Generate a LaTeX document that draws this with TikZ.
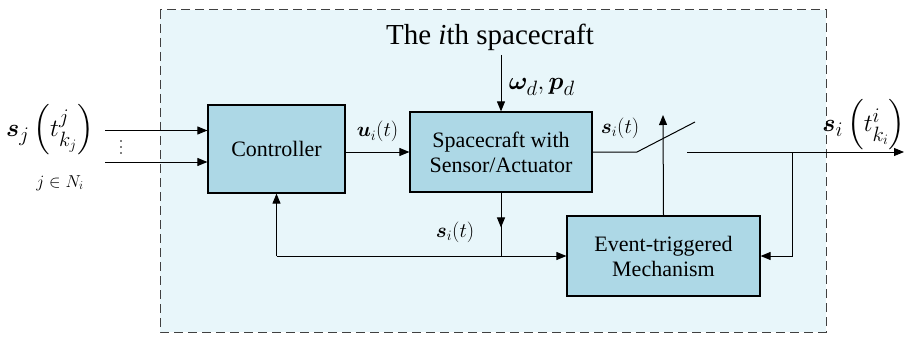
\documentclass[tikz,border=0pt]{standalone}
\usepackage{fontspec}
\setmainfont{Liberation Serif}
\usepackage{amsmath}
\usepackage{amssymb}
\usepackage{bm}
\usetikzlibrary{arrows.meta, positioning, calc}
\definecolor{bgcyan}{RGB}{232,246,250}
\definecolor{blockblue}{RGB}{173,216,230}

\begin{document}
\begin{tikzpicture}[x=1pt, y=-1pt, line width=1pt,
    >={Triangle[length=10pt, width=8pt]},
    block/.style={draw, line width=1.2pt, fill=blockblue, inner sep=0pt, align=center,
                  font=\fontsize{22}{25}\selectfont},
    lbl/.style={font=\fontsize{22}{25}\selectfont},
    biglbl/.style={font=\fontsize{28}{31}\selectfont}]
    \useasboundingbox (0,0) rectangle (914,337);

    % The i-th spacecraft frame
    \draw[dash pattern=on 9pt off 5pt, fill=bgcyan, line width=1pt, draw=black!75]
        (160,10) rectangle (826,332);
    \node[font=\fontsize{29}{32}\selectfont] (title) at (490,37) {The \textit{i}th spacecraft};

    % Blocks
    \node[block, minimum width=137pt, minimum height=88pt] (ctrl) at (276.5,149) {Controller};
    \node[block, minimum width=182pt, minimum height=80pt] (sc) at (501,152) {Spacecraft with\\Sensor/Actuator};
    \node[block, minimum width=193pt, minimum height=80pt] (etm) at (663.5,256) {Event-triggered\\Mechanism};

    % Neighbour inputs
    \node[biglbl] (sj) at (50,130) {$\bm{s}_j\left(t_{k_j}^{j}\right)$};
    \node[font=\fontsize{18}{20}\selectfont] (nj) at (60,183) {$j\in N_i$};
    \coordinate (in1) at (105,130.5);
    \coordinate (in2) at (105,162);
    \draw[->] (in1) -- (in1 -| ctrl.west);
    \draw[->] (in2) -- (in2 -| ctrl.west);
    \foreach \y in {141,147,153}
        \fill (121,\y) circle (0.8pt);

    % Controller to spacecraft
    \draw[->] (ctrl.east |- sc.west) -- (sc.west)
        node[lbl, midway, above=6pt] (ui) {$\bm{u}_i(t)$};

    % Disturbances
    \coordinate (dist) at (501,55);
    \draw[->] (dist) -- (sc.north);
    \node[biglbl, anchor=west] (wd) at (505,87) {$\bm{\omega}_d,\bm{p}_d$};

    % Switch
    \coordinate (sw1) at (637,152);
    \coordinate (sw2) at (695,122);
    \coordinate (sw3) at (687,152);
    \coordinate (out) at (904,152);
    \draw (sc.east |- sw1) -- (sw1) -- (sw2);
    \node[lbl] (si1) at (620,128) {$\bm{s}_i(t)$};
    \draw[->] (etm.north) -- (663,115);
    \draw[->] (sw3) -- (out);
    \node[biglbl] (sout) at (864,125) {$\bm{s}_i\left(t_{k_i}^{i}\right)$};

    % Feedback of sampled state
    \coordinate (br) at (792,152);
    \draw[->] (br) -- (br |- etm.east) -- (etm.east);

    % Measured state
    \coordinate (j1) at (sc.south |- etm.west);
    \coordinate (fb) at (276.5,256);
    \draw[->] (sc.south) -- ($(sc.south)!0.55!(j1)$);
    \draw ($(sc.south)!0.5!(j1)$) -- (j1);
    \node[lbl] (si2) at (455,232) {$\bm{s}_i(t)$};
    \draw[->] (fb) -- (etm.west);
    \draw[->] (fb) -- (ctrl.south);
\end{tikzpicture}
\end{document}
